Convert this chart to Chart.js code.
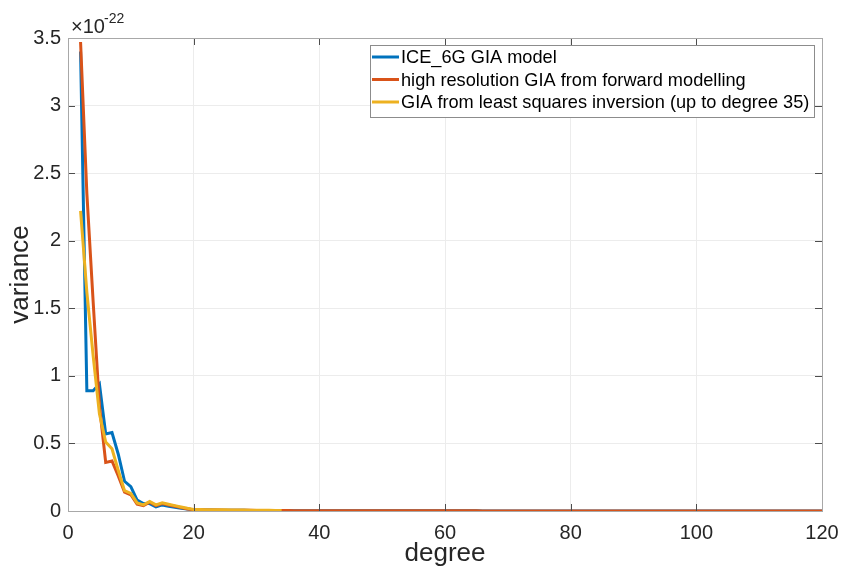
<!DOCTYPE html>
<html>
<head>
<meta charset="utf-8">
<script src="https://cdn.jsdelivr.net/npm/chart.js@4.4.0/dist/chart.umd.min.js"></script>
<style>
  html, body { margin: 0; padding: 0; background: #fff; }
</style>
</head>
<body>
<canvas id="chart" width="841" height="566"></canvas>
<script>
// values are in units of 1e-22 (the axis shows the x10^-22 factor)
const firstDegree = 2

const iceValues = [
    3.40, 0.89, 0.89, 0.94, 0.57, 0.58, 0.42, 0.22, 0.18, 0.08,
    0.055, 0.055, 0.03, 0.045, 0.035, 0.028, 0.02, 0.014, 0.009,
    0.008, 0.007, 0.007, 0.006, 0.006, 0.005, 0.005, 0.005, 0.004, 0.004,
    0.004, 0.003, 0.003, 0.003, 0.003,
    0.002, 0.002, 0.002, 0.002, 0.002, 0.002, 0.002, 0.002, 0.0015, 0.0015,
    0.0015, 0.0015, 0.0015, 0.0015, 0.0015, 0.0015, 0.001, 0.001, 0.001, 0.001,
    0.001, 0.001, 0.001, 0.001, 0.001, 0.001, 0.001, 0.001, 0.001, 0.001,
    0.0008, 0.0008, 0.0008, 0.0008, 0.0008, 0.0008, 0.0008, 0.0008, 0.0008, 0.0008,
    0.0006, 0.0006, 0.0006, 0.0006, 0.0006, 0.0006, 0.0006, 0.0006, 0.0006, 0.0006,
    0.0005, 0.0005, 0.0005, 0.0005, 0.0005, 0.0005, 0.0005, 0.0005, 0.0005, 0.0005,
    0.0004, 0.0004, 0.0004, 0.0004, 0.0004, 0.0004, 0.0004, 0.0004, 0.0004, 0.0004,
    0.0003, 0.0003, 0.0003, 0.0003, 0.0003, 0.0003, 0.0003, 0.0003, 0.0003, 0.0003,
    0.0002, 0.0002, 0.0002, 0.0002, 0.0002
]

const forwardValues = [
    3.47, 2.35, 1.55, 0.78, 0.36, 0.37, 0.26, 0.14, 0.12, 0.05,
    0.04, 0.065, 0.04, 0.055, 0.045, 0.035, 0.025, 0.015, 0.01,
    0.009, 0.008, 0.007, 0.007, 0.006, 0.006, 0.005, 0.005, 0.005, 0.004,
    0.004, 0.004, 0.003, 0.003, 0.003,
    0.002, 0.002, 0.002, 0.002, 0.002, 0.002, 0.002, 0.002, 0.0015, 0.0015,
    0.0015, 0.0015, 0.0015, 0.0015, 0.0015, 0.0015, 0.001, 0.001, 0.001, 0.001,
    0.001, 0.001, 0.001, 0.001, 0.001, 0.001, 0.001, 0.001, 0.001, 0.001,
    0.0008, 0.0008, 0.0008, 0.0008, 0.0008, 0.0008, 0.0008, 0.0008, 0.0008, 0.0008,
    0.0006, 0.0006, 0.0006, 0.0006, 0.0006, 0.0006, 0.0006, 0.0006, 0.0006, 0.0006,
    0.0005, 0.0005, 0.0005, 0.0005, 0.0005, 0.0005, 0.0005, 0.0005, 0.0005, 0.0005,
    0.0004, 0.0004, 0.0004, 0.0004, 0.0004, 0.0004, 0.0004, 0.0004, 0.0004, 0.0004,
    0.0003, 0.0003, 0.0003, 0.0003, 0.0003, 0.0003, 0.0003, 0.0003, 0.0003, 0.0003,
    0.0002, 0.0002, 0.0002, 0.0002, 0.0002
]

// least squares solution only goes up to degree 35
const inversionValues = [
    2.22, 1.62, 1.15, 0.72, 0.51, 0.46, 0.30, 0.15, 0.13, 0.06,
    0.045, 0.07, 0.045, 0.06, 0.05, 0.04, 0.03, 0.02, 0.012,
    0.011, 0.01, 0.01, 0.009, 0.009, 0.008, 0.008, 0.007, 0.006, 0.006,
    0.005, 0.005, 0.004, 0.004
]

const seriesLabels = [
    "ICE_6G GIA model",
    "high resolution GIA from forward modelling",
    "GIA from least squares inversion (up to degree 35)"
]
const seriesColors = ["#0072BD", "#D95319", "#EDB120"]

const xTicks = [0, 20, 40, 60, 80, 100, 120]
const yTicks = [0, 0.5, 1, 1.5, 2, 2.5, 3, 3.5]

const toPoints = (values) => values.map((v, i) => ({ x: firstDegree + i, y: v }))

const fontFamily = "'Liberation Sans', Arial, sans-serif"

// MATLAB style: box, inward ticks, exponent and legend box
const matlabAxes = {
    id: 'matlabAxes',
    afterDraw(chart) {
        const ctx = chart.ctx
        const area = chart.chartArea
        const xs = chart.scales.x
        const ys = chart.scales.y
        ctx.save()

        // inward ticks
        ctx.strokeStyle = '#4d4d4d'
        ctx.lineWidth = 1
        for (const t of xTicks) {
            const px = Math.round(xs.getPixelForValue(t)) + 0.5
            ctx.beginPath()
            ctx.moveTo(px, area.bottom); ctx.lineTo(px, area.bottom - 7)
            ctx.moveTo(px, area.top); ctx.lineTo(px, area.top + 7)
            ctx.stroke()
        }
        for (const t of yTicks) {
            const py = Math.round(ys.getPixelForValue(t)) + 0.5
            ctx.beginPath()
            ctx.moveTo(area.left, py); ctx.lineTo(area.left + 7, py)
            ctx.moveTo(area.right, py); ctx.lineTo(area.right - 7, py)
            ctx.stroke()
        }

        // box
        ctx.strokeStyle = '#a8a8a8'
        ctx.strokeRect(Math.round(area.left) + 0.5, Math.round(area.top) + 0.5,
            Math.round(area.right - area.left), Math.round(area.bottom - area.top))

        // exponent
        ctx.fillStyle = '#262626'
        ctx.textBaseline = 'alphabetic'
        ctx.textAlign = 'left'
        ctx.font = '20px ' + fontFamily
        ctx.fillText('\u00d710', 71, 33)
        ctx.font = '14px ' + fontFamily
        ctx.fillText('-22', 104, 23)

        // legend
        const lx = 370, ly = 45, lw = 444, lh = 72
        ctx.fillStyle = '#ffffff'
        ctx.fillRect(lx, ly, lw, lh)
        ctx.strokeStyle = '#8c8c8c'
        ctx.strokeRect(lx + 0.5, ly + 0.5, lw, lh)
        ctx.font = '18.2px ' + fontFamily
        ctx.textBaseline = 'middle'
        seriesLabels.forEach((label, i) => {
            const y = ly + 12 + i * 22.5
            ctx.strokeStyle = seriesColors[i]
            ctx.lineWidth = 3
            ctx.beginPath()
            ctx.moveTo(lx + 2, y); ctx.lineTo(lx + 29, y)
            ctx.stroke()
            ctx.fillStyle = '#000000'
            ctx.fillText(label, lx + 31, y + 1)
        })
        ctx.restore()
    }
}

const datasets = [iceValues, forwardValues, inversionValues].map((values, i) => ({
    label: seriesLabels[i],
    data: toPoints(values),
    borderColor: seriesColors[i],
    backgroundColor: seriesColors[i],
    borderWidth: 3,
    pointRadius: 0,
    tension: 0,
    fill: false,
    order: 3 - i
}))

new Chart(document.getElementById('chart'), {
    type: 'line',
    data: { datasets: datasets },
    options: {
        responsive: false,
        animation: false,
        layout: { padding: { top: 38, right: 19, left: 0, bottom: 0 } },
        plugins: {
            legend: { display: false },
            tooltip: { enabled: false }
        },
        scales: {
            x: {
                type: 'linear',
                min: 0,
                max: 120,
                afterBuildTicks: (scale) => { scale.ticks = xTicks.map(v => ({ value: v })) },
                afterFit: (scale) => {
                    scale.height = 55
                    scale.paddingLeft = 0
                    scale.paddingRight = 0
                },
                grid: { color: '#ececec', drawTicks: false },
                border: { display: false },
                ticks: {
                    color: '#262626',
                    font: { size: 20, family: fontFamily },
                    padding: 10,
                    maxRotation: 0,
                    callback: (v) => String(v)
                },
                title: {
                    display: true,
                    text: 'degree',
                    color: '#262626',
                    font: { size: 26, family: fontFamily },
                    padding: { top: -4, bottom: -3 }
                }
            },
            y: {
                min: 0,
                max: 3.5,
                afterBuildTicks: (scale) => { scale.ticks = yTicks.map(v => ({ value: v })) },
                afterFit: (scale) => {
                    scale.width = 68
                    scale.paddingTop = 0
                    scale.paddingBottom = 0
                },
                grid: { color: '#ececec', drawTicks: false },
                border: { display: false },
                ticks: {
                    color: '#262626',
                    font: { size: 20, family: fontFamily },
                    padding: 7,
                    callback: (v) => String(v)
                },
                title: {
                    display: true,
                    text: 'variance',
                    color: '#262626',
                    font: { size: 26, family: fontFamily },
                    padding: { top: 5, bottom: 4 }
                }
            }
        }
    },
    plugins: [matlabAxes]
});
</script>
</body>
</html>
